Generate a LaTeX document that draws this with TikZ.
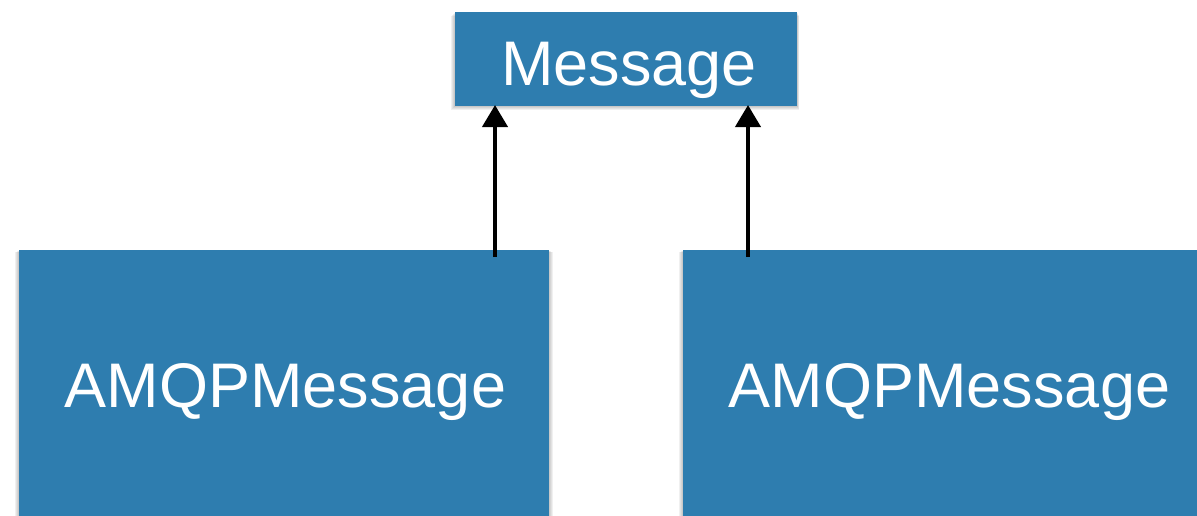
\documentclass[tikz,border=0pt]{standalone}
\usepackage{fontspec}
\setmainfont{Liberation Sans}
\usetikzlibrary{arrows.meta}
\definecolor{boxblue}{HTML}{2E7DAF}
\begin{document}
\begin{tikzpicture}[x=1pt,y=-1pt,
  box/.style={fill=boxblue,draw=none,inner sep=0pt,outer sep=0pt},
  boxshadow/.style={fill=black,opacity=0.06,draw=none},
  lbl/.style={text=white,inner sep=0pt,anchor=base,font=\fontsize{63}{63}\selectfont},
  inh/.style={draw=black,line width=4pt,-{Triangle[width=25pt,length=22pt]}}]
\useasboundingbox (0,0) rectangle (1197,515);
\clip (0,0) rectangle (1197,515);
% shadows
\foreach \d in {1,2,3,4}{
  \fill[boxshadow] (455-\d,12+\d) rectangle (797+0.5*\d,106+\d);
  \fill[boxshadow] (19-\d,250+0.5*\d) rectangle (549+\d,530);
  \fill[boxshadow] (683-\d,250+0.5*\d) rectangle (1210,530);
}
% boxes
\path[box] (455,12) rectangle (797,106);
\node[lbl] (msg) at (629,85) {Message};
\coordinate (msgL) at (495,105);
\coordinate (msgR) at (748,105);
\path[box] (19,250) rectangle (549,530);
\node[lbl] (amqp1) at (285.5,407) {AMQPMessage};
\coordinate (a1) at (495,257);
\path[box] (683,250) rectangle (1210,530);
\node[lbl] (amqp2) at (949.5,407) {AMQPMessage};
\coordinate (a2) at (748,257);
% arrows
\draw[inh] (a1) -- (msgL);
\draw[inh] (a2) -- (msgR);
\end{tikzpicture}
\end{document}
